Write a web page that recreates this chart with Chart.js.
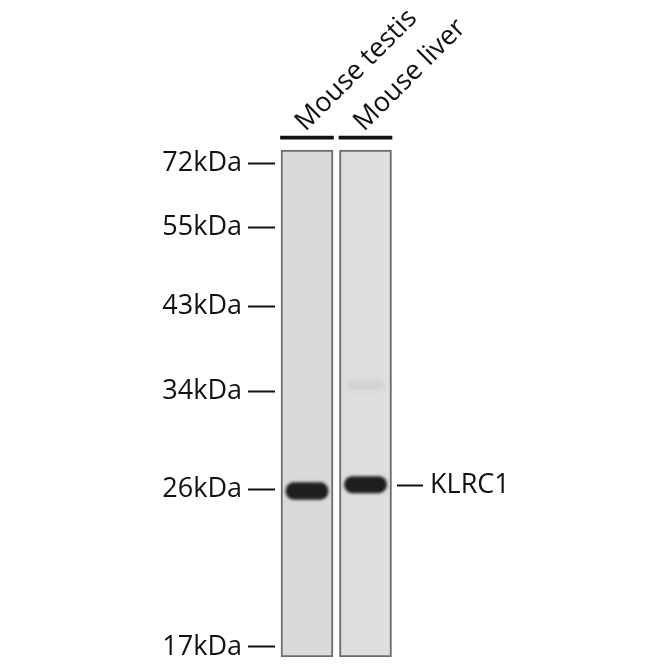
<!DOCTYPE html>
<html>
<head>
<meta charset="utf-8">
<script src="https://cdn.jsdelivr.net/npm/chart.js@4/dist/chart.umd.min.js"></script>
<style>
  html, body { margin: 0; padding: 0; background: #fff; }
  #blot { display: block; }
</style>
</head>
<body>
<canvas id="blot" width="670" height="670"></canvas>
<script>
// lanes (sample names) and their horizontal position on the x scale
var lanes = ['Mouse testis', 'Mouse liver'];
var laneX = [32, 90.5];

// molecular weight ladder : label + migration (0 = top of gel, 100 = bottom)
var markers = ['72kDa', '55kDa', '43kDa', '34kDa', '26kDa', '17kDa'];
var markerPos = [2.6, 15.3, 30.8, 47.6, 66.9, 98.0];

// KLRC1 band in each lane : [top, bottom] migration
var bandTarget = 'KLRC1';
var bandTargetPos = 66.1;
var bandSpan = [[65.6, 68.9], [64.4, 67.6]];

// faint extra band in mouse liver (~34kDa)
var faintLane = 1;
var faintSpan = [45.6, 47.3];

var ink = '#111';
var font = { family: '"Open Sans", "DejaVu Sans", sans-serif', size: 27 };

// soft edge for the bands
var blurPlugin = {
  id: 'blurBands',
  beforeDatasetDraw: function (chart, args) {
    var ds = chart.data.datasets[args.index];
    if (ds.blur) {
      chart.ctx.save();
      chart.ctx.filter = 'blur(' + ds.blur + 'px)';
    }
  },
  afterDatasetDraw: function (chart, args) {
    var ds = chart.data.datasets[args.index];
    if (ds.blur) chart.ctx.restore();
  }
};

// no extra room for half labels, the axes get fixed sizes
function noPad(s) {
  s.paddingTop = 0; s.paddingBottom = 0; s.paddingLeft = 0; s.paddingRight = 0;
}

var ctx = document.getElementById('blot').getContext('2d');
new Chart(ctx, {
  type: 'bar',
  data: {
    datasets: [
      {
        // gel lanes
        data: laneX.map(function (x) { return { x: x, y: [0, 100] }; }),
        backgroundColor: ['#dadada', '#dedede'],
        borderColor: '#6c6c6c',
        borderWidth: 2,
        borderSkipped: false,
        barThickness: 52,
        order: 4
      },
      {
        // line over each lane under the sample name
        data: laneX.map(function (x) { return { x: x, y: [-2.8, -2.2] }; }),
        backgroundColor: '#111',
        barThickness: 53,
        order: 1
      },
      {
        // faint band
        data: [{ x: laneX[faintLane], y: faintSpan }],
        backgroundColor: 'rgba(120,120,120,0.12)',
        barThickness: 36,
        borderRadius: 6,
        borderSkipped: false,
        blur: 2,
        order: 3
      },
      {
        // KLRC1 bands
        data: laneX.map(function (x, i) { return { x: x, y: bandSpan[i] }; }),
        backgroundColor: '#1e1e1e',
        barThickness: 42,
        borderRadius: 8,
        borderSkipped: false,
        blur: 1.5,
        order: 2
      }
    ]
  },
  options: {
    responsive: false,
    animation: false,
    grouped: false,
    layout: { padding: { top: 0, bottom: 13, left: 0, right: 0 } },
    plugins: { legend: { display: false }, tooltip: { enabled: false } },
    scales: {
      x: {
        type: 'linear',
        position: 'top',
        offset: false,
        min: 0,
        max: 122,
        afterBuildTicks: function (s) { s.ticks = laneX.map(function (v) { return { value: v }; }); },
        afterFit: function (s) { s.height = 135; noPad(s); },
        ticks: {
          autoSkip: false,
          minRotation: 45,
          maxRotation: 45,
          padding: -11,
          labelOffset: 16,
          color: ink,
          font: font,
          callback: function (v, i) { return lanes[i]; }
        },
        grid: { display: false, offset: false },
        border: { display: false }
      },
      y: {
        type: 'linear',
        position: 'left',
        reverse: true,
        min: -3,
        max: 100,
        afterBuildTicks: function (s) { s.ticks = markerPos.map(function (v) { return { value: v }; }); },
        afterFit: function (s) { s.width = 275; noPad(s); },
        ticks: {
          autoSkip: false,
          padding: 6,
          color: ink,
          font: font,
          callback: function (v, i) { return markers[i]; }
        },
        grid: { drawOnChartArea: false, tickLength: 27, tickWidth: 2, tickColor: ink },
        border: { display: false }
      },
      y2: {
        type: 'linear',
        position: 'right',
        reverse: true,
        min: -3,
        max: 100,
        afterBuildTicks: function (s) { s.ticks = [{ value: bandTargetPos }]; },
        afterFit: function (s) { s.width = 273; noPad(s); },
        ticks: {
          autoSkip: false,
          padding: 7,
          color: ink,
          font: font,
          callback: function () { return bandTarget; }
        },
        grid: { drawOnChartArea: false, tickLength: 26, tickWidth: 2, tickColor: ink },
        border: { display: false }
      }
    }
  },
  plugins: [blurPlugin]
});
</script>
</body>
</html>
